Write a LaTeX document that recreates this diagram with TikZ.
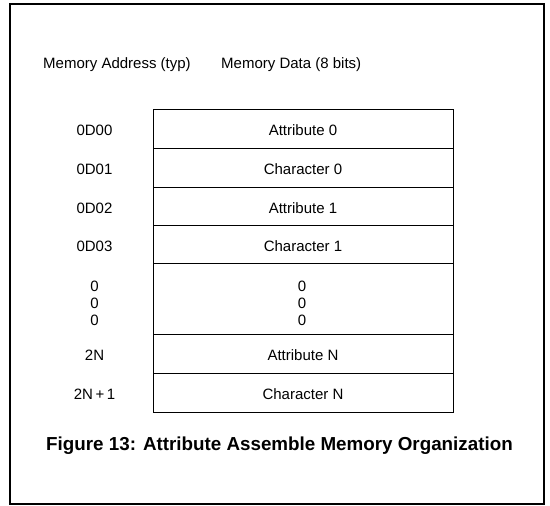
\documentclass[tikz,border=0pt]{standalone}
\usepackage{fontspec}
\setmainfont{Liberation Sans}
\begin{document}
\begin{tikzpicture}[x=1pt,y=-1pt,
  cell/.style={draw=black,line width=1.3pt,minimum width=300pt,inner sep=0pt,anchor=north west},
  lbl/.style={font=\fontsize{15}{17}\selectfont,inner sep=0pt},
  hdr/.style={font=\fontsize{15}{17}\selectfont,inner sep=0pt,anchor=west},
  frame/.style={draw=black,line width=1.8pt}]
\useasboundingbox (0,0) rectangle (550,506);
\draw[frame] (10,4) rectangle (544,504);
\node[hdr] (h1) at (43,65) {Memory Address (typ)};
\node[hdr] (h2) at (221,65) {Memory Data (8 bits)};
\node[cell,minimum height=39pt] (r0) at (153,109) {};
\node[cell,minimum height=39pt] (r1) at (153,148) {};
\node[cell,minimum height=38pt] (r2) at (153,187) {};
\node[cell,minimum height=38pt] (r3) at (153,225) {};
\node[cell,minimum height=71pt] (r4) at (153,263) {};
\node[cell,minimum height=39pt] (r5) at (153,334) {};
\node[cell,minimum height=39pt] (r6) at (153,373) {};
\node[lbl] (t0) at (303,130.5) {Attribute 0};
\node[lbl] (t1) at (303,169.5) {Character 0};
\node[lbl] (t2) at (303,208) {Attribute 1};
\node[lbl] (t3) at (303,246) {Character 1};
\node[lbl] (t5) at (303,355.5) {Attribute N};
\node[lbl] (t6) at (303,394.5) {Character N};
\node[lbl] (a0) at (94.5,130.5) {0D00};
\node[lbl] (a1) at (94.5,169.5) {0D01};
\node[lbl] (a2) at (94.5,208) {0D02};
\node[lbl] (a3) at (94.5,246) {0D03};
\node[lbl] (d1) at (94.5,286) {0};
\node[lbl] (d2) at (94.5,303) {0};
\node[lbl] (d3) at (94.5,320) {0};
\node[lbl] (e1) at (302,286) {0};
\node[lbl] (e2) at (302,303) {0};
\node[lbl] (e3) at (302,320) {0};
\node[lbl] (a5) at (94.5,355.5) {2N};
\node[lbl] (a6) at (94.5,394.5) {2N\,+\,1};
\node[font=\bfseries\fontsize{18.8}{21}\selectfont,inner sep=0pt] (title) at (279.5,446) {Figure 13: Attribute Assemble Memory Organization};
\end{tikzpicture}
\end{document}
